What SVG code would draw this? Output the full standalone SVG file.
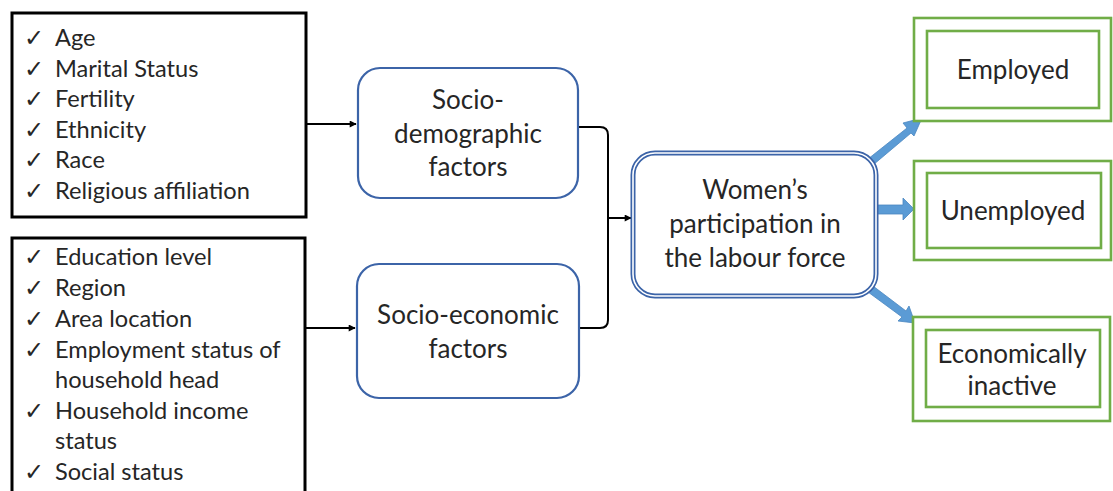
<svg xmlns="http://www.w3.org/2000/svg" width="1113" height="491" viewBox="0 0 1113 491">
  <defs>
    <marker id="tip" viewBox="0 0 10 10" refX="9" refY="5" markerWidth="8" markerHeight="7" orient="auto" markerUnits="userSpaceOnUse">
      <path d="M0,0 L10,5 L0,10 z" fill="#000"/>
    </marker>
    <style>
      .list { fill: #fff; stroke: #000; stroke-width: 3; }
      .item { font-family: Lato, "Liberation Sans", sans-serif; font-size: 23.6px; fill: #262626; }
      .chk { font-family: "DejaVu Sans", sans-serif; font-size: 24px; fill: #262626; }
      .factor { fill: #fff; stroke: #3C64A8; stroke-width: 2.2; }
      .label { font-family: Lato, "Liberation Sans", sans-serif; font-size: 26px; fill: #262626; text-anchor: middle; }
      .line { fill: none; stroke: #000; stroke-width: 2; }
      .green { fill: #fff; stroke: #70AD47; stroke-width: 2.6; }
      .fat { fill: #5B9BD5; stroke: #4A86C0; stroke-width: 0.8; }
    </style>
  </defs>

  <rect width="1113" height="491" fill="#fff"/>

  <!-- connectors -->
  <g id="connectors">
    <path class="line" d="M306,124 H356" marker-end="url(#tip)"/>
    <path class="line" d="M305,328 H355" marker-end="url(#tip)"/>
    <path class="line" d="M579,127 H600 Q608,127 608,135 V320 Q608,328 600,328 H580"/>
    <path class="line" d="M608,218 H631" marker-end="url(#tip)"/>
    <!-- block arrows to outcomes -->
    <path class="fat" d="M868,159 L907,128 L903,123 L922,118 L914,136 L911,133 L873,165 z"/>
    <path class="fat" d="M876,205 H903 V198 L914,209 L903,220 V214 H876 z"/>
    <path class="fat" d="M873,286 L906,311 L909,306 L915,323 L898,321 L902,317 L868,292 z"/>
  </g>

  <!-- demographic characteristics -->
  <g id="demographic-list">
    <rect class="list" x="12" y="13" width="294" height="204"/>
    <g class="chk">
      <text x="24" y="46">✓</text><text x="24" y="77">✓</text><text x="24" y="107">✓</text>
      <text x="24" y="138">✓</text><text x="24" y="168">✓</text><text x="24" y="199">✓</text>
    </g>
    <g class="item">
      <text x="55" y="46">Age</text>
      <text x="55" y="77">Marital Status</text>
      <text x="55" y="107">Fertility</text>
      <text x="55" y="138">Ethnicity</text>
      <text x="55" y="168">Race</text>
      <text x="55" y="199">Religious affiliation</text>
    </g>
  </g>

  <!-- economic characteristics -->
  <g id="economic-list">
    <rect class="list" x="12" y="238" width="293" height="260"/>
    <g class="chk">
      <text x="24" y="265">✓</text><text x="24" y="296">✓</text><text x="24" y="327">✓</text>
      <text x="24" y="358">✓</text><text x="24" y="419">✓</text><text x="24" y="480">✓</text>
    </g>
    <g class="item">
      <text x="55" y="265">Education level</text>
      <text x="55" y="296">Region</text>
      <text x="55" y="327">Area location</text>
      <text x="55" y="358">Employment status of</text>
      <text x="55" y="388">household head</text>
      <text x="55" y="419">Household income</text>
      <text x="55" y="449">status</text>
      <text x="55" y="480">Social status</text>
    </g>
  </g>

  <g id="socio-demographic">
    <rect class="factor" x="358" y="68" width="220" height="130" rx="22"/>
    <text class="label" x="468" y="109">Socio-</text>
    <text class="label" x="468" y="143">demographic</text>
    <text class="label" x="468" y="176">factors</text>
  </g>

  <g id="socio-economic">
    <rect class="factor" x="357" y="264" width="222" height="134" rx="22"/>
    <text class="label" x="468" y="324">Socio-economic</text>
    <text class="label" x="468" y="358">factors</text>
  </g>

  <g id="participation">
    <rect x="633" y="153" width="243" height="143" rx="22" fill="#fff" stroke="#3C64A8" stroke-width="5"/>
    <rect x="633" y="153" width="243" height="143" rx="22" fill="none" stroke="#fff" stroke-width="1.6"/>
    <text class="label" x="755" y="199">Women’s</text>
    <text class="label" x="755" y="233">participation in</text>
    <text class="label" x="755" y="267">the labour force</text>
  </g>

  <g id="employed">
    <rect class="green" x="914" y="18" width="197" height="103"/>
    <rect class="green" x="927" y="31" width="172" height="77"/>
    <text class="label" x="1013" y="79">Employed</text>
  </g>

  <g id="unemployed">
    <rect class="green" x="914" y="161" width="197" height="99"/>
    <rect class="green" x="927" y="173" width="174" height="75"/>
    <text class="label" x="1013" y="220">Unemployed</text>
  </g>

  <g id="inactive">
    <rect class="green" x="913" y="317" width="197" height="104"/>
    <rect class="green" x="926" y="330" width="174" height="77"/>
    <text class="label" x="1012" y="363">Economically</text>
    <text class="label" x="1012" y="395">inactive</text>
  </g>
</svg>
